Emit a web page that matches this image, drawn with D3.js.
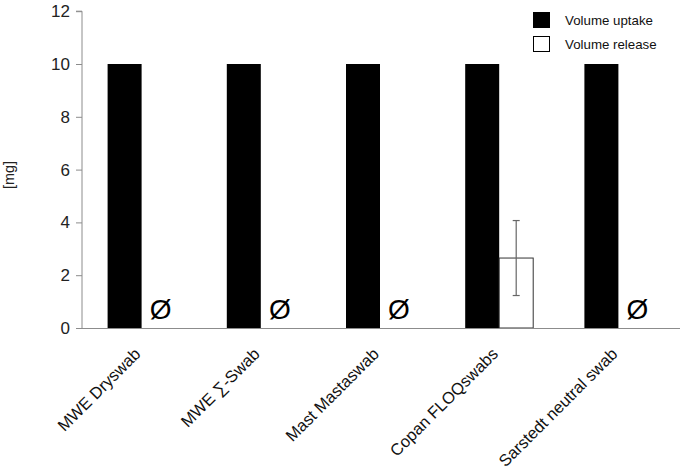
<!DOCTYPE html>
<html><head><meta charset="utf-8">
<script src="https://cdn.jsdelivr.net/npm/d3@7"></script>
<style>body{margin:0;background:#fff}svg{display:block;font-family:"Liberation Sans",Arial,sans-serif}</style>
</head><body>
<svg id="c" width="680" height="469"></svg>
<script>
const categories = ["MWE Dryswab","MWE \u2211-Swab","Mast Mastaswab","Copan FLOQswabs","Sarstedt neutral swab"];
const uptake = [10,10,10,10,10];
const release = [null,null,null,2.65,null];
const releaseErr = [null,null,null,1.42,null];
const yTicks = [0,2,4,6,8,10,12];
const seriesNames = ["Volume uptake","Volume release"];

const svg = d3.select("#c");
const m = {l:82, r:2};
const W = 680;
const x = d3.scaleBand().domain(categories).range([m.l, W - m.r]);
const y = d3.scaleLinear().domain([0,12]).range([328, 11.2]);
const barW = 34;

// axes
const yAxis = svg.append("g").attr("transform",`translate(${m.l},0)`)
  .call(d3.axisLeft(y).tickValues(yTicks).tickSize(6).tickPadding(6).tickFormat(d3.format("d")));
yAxis.selectAll("path,line").attr("stroke","#8c8c8c");
yAxis.selectAll("text").attr("font-size",17).attr("fill","#222").attr("font-family","Liberation Sans, Arial, sans-serif");
yAxis.select(".domain").attr("d",`M-6,${y(12)}H0V${y(0)}`);

const g = svg.append("g");
categories.forEach((c,i)=>{
  const cx = x(c) + x.bandwidth()/2;
  g.append("rect").attr("x",cx-barW).attr("y",y(uptake[i])).attr("width",barW).attr("height",y(0)-y(uptake[i])).attr("fill","#000");
  if (release[i] != null) {
    g.append("rect").attr("x",cx).attr("y",y(release[i])).attr("width",barW).attr("height",y(0)-y(release[i]))
      .attr("fill","#fff").attr("stroke","#333").attr("stroke-width",1);
    const ex = cx + barW/2;
    const hi = y(release[i]+releaseErr[i]), lo = y(release[i]-releaseErr[i]);
    g.append("line").attr("x1",ex).attr("x2",ex).attr("y1",hi).attr("y2",lo).attr("stroke","#666").attr("stroke-width",1.2);
    [hi,lo].forEach(v=>g.append("line").attr("x1",ex-3.5).attr("x2",ex+3.5).attr("y1",v).attr("y2",v).attr("stroke","#666").attr("stroke-width",1.2));
  } else {
    g.append("text").attr("x",cx+barW/2+2).attr("y",y(0)-9).attr("text-anchor","middle")
      .attr("font-size",28).attr("fill","#000").text("\u00D8");
  }
  g.append("text").attr("transform",`translate(${cx},${y(0)+27}) rotate(-45)`)
    .attr("text-anchor","end").attr("font-size",16.5).attr("fill","#111").text(c);
});

// x axis line
svg.append("line").attr("x1",m.l).attr("x2",W).attr("y1",y(0)+0.5).attr("y2",y(0)+0.5).attr("stroke","#8c8c8c");

// y label
svg.append("text").attr("transform",`translate(14,175) rotate(-90)`)
  .attr("text-anchor","middle").attr("font-size",14.5).attr("fill","#222").text("[mg]");

// legend
const lg = svg.append("g");
seriesNames.forEach((s,i)=>{
  const ly = 12 + i*24;
  lg.append("rect").attr("x",533.5).attr("y",ly+0.5).attr("width",16).attr("height",15)
    .attr("fill", i===0 ? "#000" : "#fff").attr("stroke","#000").attr("stroke-width",1);
  lg.append("text").attr("x",565).attr("y",ly+13).attr("font-size",13.3).attr("fill","#111").text(s);
});
</script>
</body></html>
